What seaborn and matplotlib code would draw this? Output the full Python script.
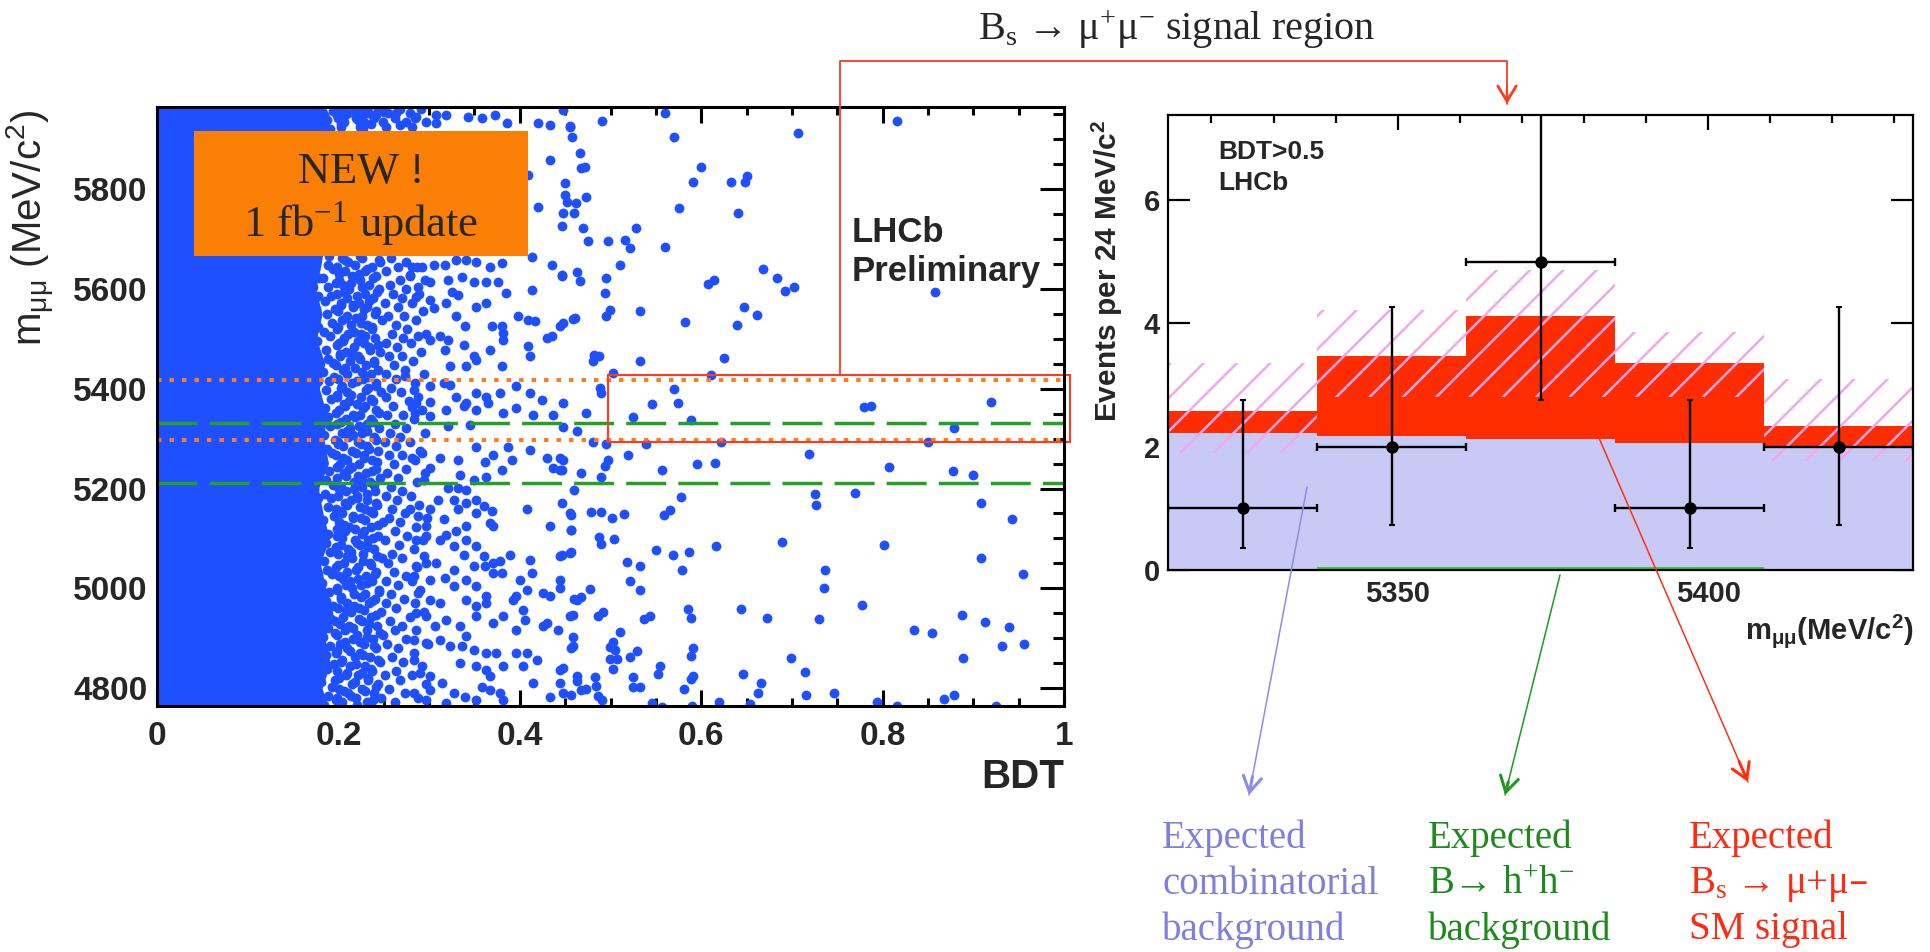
import matplotlib
matplotlib.use('Agg')
import matplotlib.pyplot as plt
import seaborn as sns
import numpy as np
import pandas as pd
from matplotlib.lines import Line2D
from matplotlib.patches import Rectangle, FancyArrowPatch, ArrowStyle
from matplotlib.ticker import MultipleLocator

# ======================= DATA =======================
# --- left panel: BDT vs dimuon mass ---
bdt_ticks = [0, 0.2, 0.4, 0.6, 0.8, 1.0]
bdt_tick_labels = ['0', '0.2', '0.4', '0.6', '0.8', '1']
mass_ticks = [4800, 5000, 5200, 5400, 5600, 5800]
mass_tick_labels = ['4800', '5000', '5200', '5400', '5600', '5800']

# right edge of the saturated (fully covered) low-BDT region
solid_edge_mass = [4764, 4800, 4850, 4900, 4950, 5000, 5050, 5100, 5150, 5200, 5250, 5300, 5350,
                   5400, 5450, 5500, 5550, 5600, 5650, 5700, 5750, 5800, 5850, 5900, 5950, 5966]
solid_edge_bdt = [0.188, 0.182, 0.191, 0.185, 0.194, 0.186, 0.180, 0.190, 0.183, 0.178, 0.189, 0.184, 0.187,
                  0.179, 0.185, 0.176, 0.182, 0.175, 0.181, 0.185, 0.185, 0.185, 0.185, 0.185, 0.190, 0.185]

# dense band just right of the saturated region: (mass, [bdt values])
dense_rows_a = [
    (4772, [0.204, 0.231, 0.262]), (4781, [0.198, 0.219, 0.247, 0.288]), (4790, [0.211, 0.239, 0.273]),
    (4799, [0.201, 0.226, 0.256]), (4808, [0.215, 0.244, 0.297]), (4817, [0.196, 0.233, 0.268]),
    (4826, [0.208, 0.222, 0.251, 0.281]), (4835, [0.199, 0.237, 0.263]), (4844, [0.213, 0.229, 0.292]),
    (4853, [0.203, 0.246, 0.271]), (4862, [0.218, 0.235, 0.259]), (4871, [0.197, 0.224, 0.283]),
    (4880, [0.209, 0.241, 0.266]), (4889, [0.202, 0.228, 0.254, 0.299]), (4898, [0.216, 0.238, 0.275]),
    (4907, [0.199, 0.221, 0.249]), (4916, [0.207, 0.232, 0.262, 0.286]), (4925, [0.212, 0.243, 0.270]),
    (4934, [0.196, 0.226, 0.257]), (4943, [0.205, 0.236, 0.279]), (4952, [0.214, 0.247, 0.294]),
    (4961, [0.200, 0.223, 0.263]), (4970, [0.209, 0.234, 0.252, 0.285]), (4979, [0.203, 0.240, 0.272]),
    (4988, [0.217, 0.229, 0.258]), (4997, [0.198, 0.245, 0.290]), (5006, [0.208, 0.225, 0.266]),
    (5015, [0.213, 0.237, 0.253, 0.281]), (5024, [0.201, 0.230, 0.274]), (5033, [0.210, 0.242, 0.261]),
    (5042, [0.197, 0.222, 0.287]), (5051, [0.206, 0.235, 0.255, 0.297]), (5060, [0.215, 0.248, 0.270]),
    (5069, [0.200, 0.227, 0.259]), (5078, [0.211, 0.239, 0.283]), (5087, [0.203, 0.224, 0.267]),
    (5096, [0.218, 0.233, 0.251, 0.293]), (5105, [0.198, 0.244, 0.276]), (5114, [0.207, 0.228, 0.262]),
    (5123, [0.212, 0.236, 0.286]), (5132, [0.201, 0.249, 0.268]), (5141, [0.216, 0.225, 0.256, 0.298]),
    (5150, [0.204, 0.238, 0.273]), (5159, [0.197, 0.229, 0.259]), (5168, [0.209, 0.243, 0.289]),
    (5177, [0.214, 0.232, 0.265]), (5186, [0.200, 0.221, 0.252, 0.280]), (5195, [0.208, 0.240, 0.270]),
    (5204, [0.203, 0.226, 0.258]), (5213, [0.217, 0.235, 0.287]), (5222, [0.199, 0.246, 0.266]),
    (5231, [0.206, 0.230, 0.254, 0.295]), (5240, [0.212, 0.241, 0.274]), (5249, [0.202, 0.223, 0.261]),
    (5258, [0.210, 0.237, 0.284]), (5267, [0.197, 0.228, 0.256, 0.270]), (5276, [0.215, 0.244, 0.290]),
    (5285, [0.205, 0.232, 0.263]), (5294, [0.200, 0.222, 0.251, 0.279]), (5303, [0.211, 0.239, 0.268]),
    (5312, [0.204, 0.226, 0.257, 0.296]), (5321, [0.213, 0.245, 0.275]), (5330, [0.198, 0.231, 0.262]),
    (5339, [0.208, 0.236, 0.283]), (5348, [0.216, 0.224, 0.254, 0.271]), (5357, [0.201, 0.242, 0.292]),
    (5366, [0.207, 0.229, 0.260]), (5375, [0.212, 0.238, 0.278]), (5384, [0.199, 0.225, 0.253, 0.288]),
    (5393, [0.209, 0.247, 0.269]), (5402, [0.203, 0.233, 0.258]), (5411, [0.215, 0.241, 0.285]),
    (5420, [0.200, 0.227, 0.264]), (5429, [0.210, 0.236, 0.252, 0.294]), (5438, [0.205, 0.244, 0.273]),
    (5447, [0.197, 0.230, 0.261]), (5456, [0.213, 0.239, 0.282]), (5465, [0.202, 0.222, 0.256, 0.270]),
    (5474, [0.208, 0.246, 0.291]), (5483, [0.217, 0.234, 0.265]), (5492, [0.201, 0.228, 0.253, 0.280]),
    (5501, [0.206, 0.240, 0.271]), (5510, [0.211, 0.225, 0.259, 0.297]), (5519, [0.199, 0.237, 0.276]),
    (5528, [0.214, 0.231, 0.263]), (5537, [0.204, 0.248, 0.286]), (5546, [0.209, 0.226, 0.255, 0.272]),
    (5555, [0.200, 0.242, 0.293]), (5564, [0.216, 0.232, 0.266]), (5573, [0.203, 0.223, 0.251, 0.281]),
    (5582, [0.210, 0.238, 0.270]), (5591, [0.198, 0.229, 0.260, 0.289]), (5600, [0.212, 0.245, 0.275]),
    (5609, [0.205, 0.234, 0.257]), (5618, [0.201, 0.224, 0.268, 0.295]), (5627, [0.215, 0.241, 0.279]),
    (5636, [0.207, 0.229, 0.253]), (5645, [0.199, 0.237, 0.266, 0.287]), (5654, [0.211, 0.246, 0.274]),
    (5663, [0.204, 0.226, 0.258]),
    (5925, [0.203, 0.224, 0.252, 0.281]), (5934, [0.206, 0.228, 0.249, 0.274, 0.297]),
    (5943, [0.200, 0.219, 0.239, 0.262, 0.285]), (5952, [0.211, 0.233, 0.255, 0.279]),
    (5961, [0.204, 0.225, 0.244, 0.268, 0.291]),
]

dense_rows_b = [
    (4767, [0.163, 0.184, 0.221]), (4776, [0.171, 0.197, 0.238]), (4785, [0.166, 0.189, 0.214]),
    (4794, [0.175, 0.206, 0.229]), (4803, [0.161, 0.193, 0.242]), (4812, [0.169, 0.181, 0.218]),
    (4821, [0.178, 0.201, 0.233]), (4830, [0.164, 0.209, 0.226]), (4839, [0.173, 0.187, 0.236]),
    (4848, [0.167, 0.195, 0.219]), (4857, [0.176, 0.204, 0.244]), (4866, [0.162, 0.186, 0.227]),
    (4875, [0.170, 0.199, 0.213]), (4884, [0.179, 0.191, 0.239]), (4893, [0.165, 0.207, 0.224]),
    (4902, [0.172, 0.183, 0.231]), (4911, [0.168, 0.196, 0.246]), (4920, [0.177, 0.188, 0.216]),
    (4929, [0.163, 0.202, 0.234]), (4938, [0.174, 0.192, 0.223]), (4947, [0.166, 0.185, 0.241]),
    (4956, [0.171, 0.208, 0.228]), (4965, [0.179, 0.194, 0.217]), (4974, [0.164, 0.186, 0.237]),
    (4983, [0.169, 0.203, 0.225]), (4992, [0.176, 0.190, 0.245]), (5001, [0.162, 0.198, 0.215]),
    (5010, [0.173, 0.182, 0.232]), (5019, [0.167, 0.205, 0.222]), (5028, [0.178, 0.193, 0.240]),
    (5037, [0.165, 0.187, 0.219]), (5046, [0.172, 0.200, 0.236]), (5055, [0.168, 0.184, 0.227]),
    (5064, [0.175, 0.209, 0.243]), (5073, [0.161, 0.191, 0.214]), (5082, [0.170, 0.197, 0.233]),
    (5091, [0.177, 0.186, 0.221]), (5100, [0.163, 0.204, 0.238]), (5109, [0.174, 0.189, 0.226]),
    (5118, [0.166, 0.199, 0.218]), (5127, [0.179, 0.206, 0.244]), (5136, [0.164, 0.183, 0.229]),
    (5145, [0.171, 0.195, 0.216]), (5154, [0.176, 0.202, 0.235]), (5163, [0.162, 0.188, 0.224]),
    (5172, [0.169, 0.207, 0.241]), (5181, [0.178, 0.192, 0.220]), (5190, [0.165, 0.185, 0.231]),
    (5199, [0.173, 0.201, 0.217]), (5208, [0.167, 0.194, 0.239]), (5217, [0.175, 0.186, 0.226]),
    (5226, [0.161, 0.208, 0.222]), (5235, [0.170, 0.190, 0.237]), (5244, [0.177, 0.198, 0.215]),
    (5253, [0.164, 0.183, 0.243]), (5262, [0.172, 0.205, 0.228]), (5271, [0.168, 0.193, 0.219]),
    (5280, [0.179, 0.187, 0.234]), (5289, [0.163, 0.200, 0.225]), (5298, [0.174, 0.196, 0.241]),
    (5307, [0.166, 0.184, 0.216]), (5316, [0.171, 0.209, 0.232]), (5325, [0.176, 0.191, 0.223]),
    (5334, [0.162, 0.203, 0.238]), (5343, [0.169, 0.188, 0.218]), (5352, [0.178, 0.197, 0.245]),
    (5361, [0.165, 0.185, 0.227]), (5370, [0.173, 0.206, 0.221]), (5379, [0.167, 0.192, 0.236]),
    (5388, [0.175, 0.199, 0.214]), (5397, [0.161, 0.186, 0.230]), (5406, [0.170, 0.204, 0.242]),
    (5415, [0.177, 0.190, 0.220]), (5424, [0.164, 0.195, 0.233]), (5433, [0.172, 0.183, 0.226]),
    (5442, [0.168, 0.207, 0.218]), (5451, [0.179, 0.194, 0.239]), (5460, [0.163, 0.189, 0.224]),
    (5469, [0.174, 0.202, 0.215]), (5478, [0.166, 0.186, 0.235]), (5487, [0.171, 0.198, 0.244]),
    (5496, [0.176, 0.205, 0.222]), (5505, [0.162, 0.191, 0.229]), (5514, [0.169, 0.184, 0.217]),
    (5523, [0.178, 0.200, 0.237]), (5532, [0.165, 0.193, 0.225]), (5541, [0.173, 0.208, 0.219]),
    (5550, [0.167, 0.187, 0.240]), (5559, [0.175, 0.196, 0.228]), (5568, [0.161, 0.203, 0.216]),
    (5577, [0.170, 0.185, 0.234]), (5586, [0.177, 0.192, 0.221]), (5595, [0.164, 0.206, 0.243]),
    (5604, [0.172, 0.189, 0.226]), (5613, [0.168, 0.197, 0.214]), (5622, [0.179, 0.183, 0.238]),
    (5631, [0.163, 0.201, 0.223]), (5640, [0.174, 0.194, 0.231]), (5649, [0.166, 0.188, 0.218]),
    (5658, [0.171, 0.207, 0.245]), (5666, [0.176, 0.190, 0.224]),
    (5921, [0.168, 0.191, 0.227]), (5930, [0.174, 0.203, 0.236]), (5939, [0.165, 0.187, 0.222]),
    (5948, [0.172, 0.199, 0.241]), (5957, [0.178, 0.194, 0.218]), (5965, [0.167, 0.205, 0.233]),
]

# medium-density region (bdt, mass)
mid_points = [
    (0.207, 5949), (0.226, 5949), (0.238, 5949), (0.250, 5955), (0.264, 5952), (0.286, 5945), (0.308, 5949),
    (0.319, 5949), (0.343, 5945), (0.358, 5942), (0.373, 5949), (0.386, 5932), (0.420, 5932), (0.433, 5929),
    (0.455, 5925), (0.448, 5959), (0.226, 5925), (0.308, 5932), (0.268, 5929),
    (0.433, 5859), (0.420, 5765), (0.413, 5665), (0.409, 5829),
    (0.281, 5645), (0.292, 5645), (0.305, 5648), (0.317, 5648), (0.330, 5658), (0.341, 5658), (0.352, 5655),
    (0.367, 5645), (0.380, 5652), (0.435, 5648), (0.446, 5628),
    (0.279, 5628), (0.288, 5605), (0.301, 5615), (0.321, 5618), (0.336, 5625), (0.349, 5615), (0.363, 5615),
    (0.376, 5615), (0.385, 5592), (0.325, 5595), (0.332, 5588), (0.413, 5598), (0.352, 5565),
    (0.286, 5585), (0.301, 5578), (0.305, 5562), (0.319, 5572), (0.330, 5545), (0.340, 5525), (0.363, 5572),
    (0.369, 5525), (0.380, 5525), (0.382, 5511), (0.398, 5545), (0.409, 5538), (0.417, 5535), (0.444, 5525),
    (0.435, 5505), (0.461, 5541),
    (0.288, 5505), (0.301, 5498), (0.312, 5505), (0.321, 5498), (0.317, 5478), (0.338, 5488), (0.349, 5465),
    (0.367, 5478), (0.382, 5498), (0.409, 5485), (0.411, 5465), (0.430, 5501), (0.323, 5445), (0.341, 5445),
    (0.352, 5458), (0.380, 5445),
    (0.273, 5425), (0.283, 5398), (0.301, 5405), (0.316, 5411), (0.323, 5408), (0.330, 5384), (0.341, 5371),
    (0.352, 5391), (0.363, 5384), (0.378, 5391), (0.396, 5405), (0.411, 5391), (0.424, 5378), (0.448, 5371),
    (0.281, 5364), (0.301, 5374),
    (0.319, 5358), (0.338, 5365), (0.352, 5358), (0.365, 5371), (0.382, 5351), (0.396, 5361), (0.415, 5348),
    (0.437, 5348), (0.345, 5328), (0.321, 5325), (0.301, 5345), (0.284, 5351), (0.286, 5371),
    (0.332, 5258), (0.352, 5284), (0.362, 5254), (0.371, 5268), (0.387, 5284), (0.391, 5258), (0.411, 5278),
    (0.430, 5261), (0.444, 5261), (0.437, 5241), (0.444, 5238), (0.380, 5238), (0.363, 5224), (0.349, 5218),
    (0.334, 5228), (0.312, 5261), (0.301, 5241), (0.292, 5271), (0.281, 5261), (0.294, 5218), (0.321, 5201),
    (0.332, 5201), (0.341, 5198),
    (0.310, 5178), (0.301, 5158), (0.288, 5144), (0.297, 5124), (0.279, 5158), (0.316, 5138), (0.328, 5178),
    (0.332, 5158), (0.341, 5171), (0.352, 5178), (0.352, 5151), (0.360, 5164), (0.369, 5154), (0.367, 5131),
    (0.371, 5124), (0.341, 5124), (0.330, 5114), (0.319, 5107), (0.408, 5158), (0.433, 5124), (0.455, 5151),
    (0.457, 5117),
    (0.286, 5097), (0.297, 5104), (0.312, 5097), (0.327, 5084), (0.341, 5097), (0.352, 5084), (0.338, 5067),
    (0.360, 5064), (0.371, 5051), (0.378, 5054), (0.389, 5067), (0.380, 5031), (0.362, 5044), (0.349, 5044),
    (0.327, 5037), (0.308, 5051), (0.294, 5064), (0.286, 5044), (0.283, 5024), (0.301, 5017), (0.317, 5021),
    (0.328, 5004), (0.341, 5017), (0.352, 5004), (0.363, 4984), (0.371, 5031), (0.400, 5017), (0.411, 5057),
    (0.413, 5031), (0.444, 5064), (0.455, 5071), (0.444, 5017), (0.433, 4984), (0.426, 4991), (0.396, 4984),
    (0.408, 4997), (0.393, 4977),
    (0.288, 4991), (0.301, 4977), (0.312, 4971), (0.286, 4950), (0.297, 4944), (0.306, 4924), (0.319, 4937),
    (0.334, 4924), (0.341, 4977), (0.352, 4964), (0.352, 4944), (0.363, 4971), (0.371, 4930), (0.382, 4944),
    (0.404, 4957), (0.406, 4937), (0.396, 4917), (0.426, 4924), (0.430, 4930), (0.442, 4917), (0.455, 4944),
    (0.463, 4977),
    (0.283, 4897), (0.297, 4890), (0.312, 4897), (0.323, 4884), (0.336, 4884), (0.341, 4904), (0.349, 4877),
    (0.363, 4870), (0.374, 4870), (0.334, 4850), (0.352, 4844), (0.363, 4837), (0.367, 4824), (0.382, 4844),
    (0.396, 4870), (0.408, 4870), (0.419, 4857), (0.404, 4844), (0.415, 4810), (0.433, 4783), (0.448, 4790),
    (0.459, 4884), (0.463, 4824), (0.444, 4837), (0.358, 4803), (0.367, 4797), (0.378, 4790), (0.382, 4777),
    (0.352, 4777), (0.340, 4783), (0.327, 4790), (0.314, 4810), (0.301, 4824), (0.290, 4830), (0.283, 4857),
    (0.301, 4797), (0.319, 4770), (0.297, 4777), (0.283, 4790),
]

# sparse high-BDT candidates (bdt, mass)
sparse_points = [
    (0.560, 5953), (0.491, 5937), (0.455, 5927), (0.458, 5905), (0.570, 5904), (0.707, 5913), (0.816, 5937),
    (0.466, 5873), (0.468, 5842), (0.472, 5845), (0.600, 5845), (0.450, 5812), (0.591, 5814), (0.633, 5815),
    (0.648, 5815), (0.651, 5827), (0.450, 5789), (0.452, 5775), (0.462, 5772), (0.473, 5784), (0.575, 5763),
    (0.641, 5753), (0.448, 5753), (0.460, 5753), (0.447, 5726), (0.470, 5722), (0.528, 5722), (0.475, 5696),
    (0.497, 5696), (0.516, 5698), (0.521, 5682), (0.560, 5685), (0.510, 5648), (0.668, 5640), (0.684, 5622),
    (0.692, 5597), (0.702, 5605), (0.608, 5610), (0.614, 5618), (0.858, 5595), (0.447, 5626), (0.463, 5635),
    (0.466, 5617), (0.495, 5622), (0.494, 5592), (0.448, 5531), (0.459, 5539), (0.495, 5545), (0.499, 5558),
    (0.533, 5556), (0.582, 5533), (0.647, 5564), (0.661, 5548), (0.639, 5528), (0.482, 5468), (0.487, 5466),
    (0.481, 5455), (0.533, 5455), (0.625, 5461), (0.503, 5432), (0.611, 5428), (0.488, 5402), (0.489, 5392),
    (0.570, 5400), (0.546, 5369), (0.574, 5371), (0.473, 5352), (0.525, 5344), (0.589, 5338), (0.780, 5363),
    (0.787, 5366), (0.920, 5374), (0.879, 5321), (0.448, 5324), (0.463, 5316), (0.481, 5294), (0.495, 5290),
    (0.539, 5290), (0.622, 5294), (0.850, 5294), (0.719, 5270), (0.519, 5268), (0.448, 5257), (0.446, 5237),
    (0.497, 5257), (0.494, 5245), (0.595, 5249), (0.615, 5251), (0.557, 5237), (0.807, 5244), (0.878, 5236),
    (0.900, 5227), (0.468, 5231), (0.489, 5224),
    (0.460, 5197), (0.447, 5172), (0.456, 5147), (0.479, 5153), (0.490, 5153), (0.502, 5141), (0.515, 5149),
    (0.578, 5184), (0.559, 5146), (0.566, 5156), (0.725, 5189), (0.727, 5167), (0.770, 5191), (0.908, 5171),
    (0.943, 5139), (0.457, 5117), (0.487, 5102), (0.489, 5089), (0.504, 5099), (0.689, 5092), (0.802, 5086),
    (0.616, 5085), (0.446, 5067), (0.456, 5072), (0.550, 5077), (0.569, 5067), (0.587, 5072), (0.579, 5037),
    (0.518, 5052), (0.532, 5044), (0.522, 5015), (0.532, 4997), (0.736, 5036), (0.735, 5000), (0.908, 5060),
    (0.955, 5029), (0.477, 4998), (0.460, 4978), (0.468, 4982), (0.777, 4967), (0.644, 4958), (0.673, 4941),
    (0.730, 4938), (0.459, 4947), (0.486, 4944), (0.492, 4953), (0.537, 4939), (0.544, 4944), (0.585, 4959),
    (0.589, 4941), (0.887, 4947), (0.913, 4932), (0.939, 4923), (0.835, 4917), (0.855, 4910), (0.932, 4885),
    (0.956, 4888), (0.510, 4912), (0.459, 4903), (0.457, 4880), (0.503, 4893), (0.505, 4877), (0.499, 4883),
    (0.499, 4858), (0.507, 4858), (0.529, 4875), (0.522, 4862), (0.591, 4881), (0.589, 4865), (0.699, 4860),
    (0.889, 4860), (0.503, 4838), (0.714, 4833), (0.552, 4829), (0.555, 4845), (0.589, 4818), (0.591, 4825),
    (0.646, 4828), (0.525, 4822), (0.525, 4803), (0.532, 4803), (0.483, 4822), (0.484, 4805), (0.463, 4815),
    (0.468, 4797), (0.473, 4798), (0.456, 4787), (0.486, 4785), (0.491, 4777), (0.581, 4799), (0.663, 4791),
    (0.666, 4811), (0.716, 4787), (0.746, 4791), (0.868, 4778), (0.879, 4787), (0.794, 4773), (0.816, 4764),
    (0.925, 4764), (0.620, 4773), (0.654, 4769), (0.590, 4764), (0.557, 4762), (0.546, 4770), (0.448, 4841),
    (0.444, 4811), (0.444, 5000),
]

# mass windows
bd_window = [5212, 5332]       # green dashed
bs_window = [5298, 5418]       # orange dotted
signal_box_bdt = [0.497, 1.007]
signal_box_mass = [5294, 5428]

# --- right panel: mass spectrum for BDT>0.5 ---
bin_edges = [5313, 5337, 5361, 5385, 5409, 5433]
bhh_bkg = [0.012, 0.05, 0.05, 0.05, 0.012]
comb_bkg = [2.21, 2.13, 2.07, 2.01, 1.96]
sm_signal = [0.35, 1.29, 2.00, 1.29, 0.37]
band_lo = [1.89, 2.81, 2.81, 2.81, 1.76]
band_hi = [3.35, 4.22, 4.86, 3.86, 3.09]
obs_counts = [1, 2, 5, 1, 2]
obs_err_lo = [0.65, 1.27, 2.25, 0.65, 1.27]
obs_err_hi = [1.76, 2.26, 3.00, 1.76, 2.26]
hist_xticks = [5350, 5400]
hist_yticks = [0, 2, 4, 6]

# ======================= STYLE =======================
sns.set_theme(style='ticks')
SANS = ['Liberation Sans', 'DejaVu Sans']
SERIF = ['Liberation Serif', 'DejaVu Serif']
plt.rcParams['font.family'] = SANS
plt.rcParams['mathtext.default'] = 'regular'
plt.rcParams['hatch.linewidth'] = 1.8
plt.rcParams['axes.facecolor'] = 'white'

BLUE = '#1F50FF'
LAV = '#C9C9F5'
RED = '#FF2C00'
GREENF = '#33CC33'
HATCH = '#F2A6EE'
ORANGE_BOX = '#F97F05'
ORANGE_DOT = '#FF7A22'
GREEN_DASH = '#259F25'
RED_LINE = '#FF3A1E'
LAV_TXT = '#7F7FDD'
GREEN_TXT = '#1E8A1E'
RED_TXT = '#FF2A12'

W, H = 1930, 952
fig = plt.figure(figsize=(W / 100, H / 100), dpi=100, facecolor='white')

def fx(x):
    return x / W

def fy(y):
    return 1 - y / H

# ======================= LEFT PANEL =======================
ax = fig.add_axes([157 / W, 1 - 706 / H, (1064 - 157) / W, (706 - 107) / H])
ax.set_xlim(0, 1)
ax.set_ylim(4764, 5965)

ax.fill_betweenx(solid_edge_mass, 0, solid_edge_bdt, color=BLUE, lw=0, zorder=1)

pts = ([(b, m) for m, bl in dense_rows_b for b in bl] + [(b, m) for m, bl in dense_rows_a for b in bl]
       + mid_points + sparse_points)
pts_df = pd.DataFrame(pts, columns=['bdt', 'mass'])
sns.scatterplot(data=pts_df, x='bdt', y='mass', ax=ax, color=BLUE, s=50, linewidth=0, legend=False, zorder=2)

for m in bd_window:
    ax.axhline(m, color=GREEN_DASH, lw=2.5, dashes=(11.5, 3.5), zorder=3)
for m in bs_window:
    ax.axhline(m, color=ORANGE_DOT, lw=2.9, dashes=(1.1, 2.0), zorder=3.1)

ax.add_patch(Rectangle((signal_box_bdt[0], signal_box_mass[0]), signal_box_bdt[1] - signal_box_bdt[0],
                       signal_box_mass[1] - signal_box_mass[0], fill=False, edgecolor=RED_LINE, lw=1.5,
                       clip_on=False, zorder=4))

ax.add_patch(Rectangle((0.041, 5667), 0.368, 250, facecolor=ORANGE_BOX, lw=0, zorder=5))
ax.text(0.225, 5835, 'NEW !', ha='center', va='center', fontsize=32, family=SERIF, zorder=6)
ax.text(0.225, 5732, '1 fb$^{-1}$ update', ha='center', va='center', fontsize=32, family=SERIF, zorder=6)

ax.text(0.766, 0.790, 'LHCb', transform=ax.transAxes, fontsize=25, fontweight='bold', va='center', ha='left', zorder=6)
ax.text(0.766, 0.726, 'Preliminary', transform=ax.transAxes, fontsize=25, fontweight='bold', va='center', ha='left', zorder=6)

ax.set_xticks(bdt_ticks)
ax.set_xticklabels(bdt_tick_labels, fontweight='bold')
ax.set_yticks(mass_ticks)
ax.set_yticklabels(mass_tick_labels, fontweight='bold')
ax.xaxis.set_minor_locator(MultipleLocator(0.05))
ax.yaxis.set_minor_locator(MultipleLocator(50))
ax.tick_params(which='both', direction='in', top=True, right=True, width=2.2, color='black')
ax.tick_params(axis='x', which='major', length=11.5, labelsize=24, pad=11)
ax.tick_params(axis='x', which='minor', length=5.8)
ax.tick_params(axis='y', which='major', length=17, labelsize=24, pad=7)
ax.tick_params(axis='y', which='minor', length=8)
for s in ax.spines.values():
    s.set_linewidth(2.2)
    s.set_color('black')
    s.set_zorder(7)

ax.set_xlabel('BDT', fontsize=29, fontweight='bold', loc='right')
ax.xaxis.set_label_coords(1.0, -0.087)
ax.set_ylabel('m$_{μμ}$ (MeV/c$^{2}$)', fontsize=29, loc='top')
ax.yaxis.set_label_coords(-0.11, 0.995)

# ======================= RIGHT PANEL =======================
ax2 = fig.add_axes([1168 / W, 1 - 570 / H, (1913 - 1168) / W, (570 - 115) / H])
edges = np.array(bin_edges, dtype=float)
centers = 0.5 * (edges[:-1] + edges[1:])
widths = np.diff(edges)
lvl_green = np.array(bhh_bkg)
lvl_lav = lvl_green + np.array(comb_bkg)
lvl_red = lvl_lav + np.array(sm_signal)
hist_df = pd.DataFrame({'mass': centers, 'red': lvl_red, 'lav': lvl_lav, 'green': lvl_green})

for col, colr, z in [('red', RED, 1), ('lav', LAV, 1.1), ('green', GREENF, 1.2)]:
    sns.histplot(data=hist_df, x='mass', weights=col, bins=list(bin_edges), ax=ax2, color=colr,
                 alpha=1, linewidth=0, zorder=z)

ax2.bar(centers, np.array(band_hi) - np.array(band_lo), width=widths, bottom=band_lo, fill=False,
        hatch='/', edgecolor=HATCH, linewidth=0, zorder=2)

ax2.errorbar(centers, obs_counts, xerr=widths / 2, fmt='none', ecolor='black', elinewidth=1.7,
             capsize=3.0, capthick=1.7, zorder=3)
ax2.errorbar(centers, obs_counts, yerr=[obs_err_lo, obs_err_hi], fmt='none', ecolor='black',
             elinewidth=1.7, capsize=2.0, capthick=1.5, zorder=3)
obs_df = pd.DataFrame({'mass': centers, 'n': obs_counts})
sns.scatterplot(data=obs_df, x='mass', y='n', ax=ax2, color='black', s=80, linewidth=0, legend=False, zorder=4)

ax2.set_xlim(bin_edges[0], bin_edges[-1])
ax2.set_ylim(0, 7.38)
ax2.set_xticks(hist_xticks)
ax2.set_xticklabels([str(t) for t in hist_xticks], fontweight='bold')
ax2.set_yticks(hist_yticks)
ax2.set_yticklabels([str(t) for t in hist_yticks], fontweight='bold')
ax2.xaxis.set_minor_locator(MultipleLocator(10))
ax2.tick_params(which='both', direction='in', top=True, right=True, width=1.6, color='black')
ax2.tick_params(axis='x', which='major', length=11, labelsize=21, pad=7)
ax2.tick_params(axis='x', which='minor', length=5.5)
ax2.tick_params(axis='y', which='major', length=16, labelsize=21, pad=6)
for s in ax2.spines.values():
    s.set_linewidth(1.6)
    s.set_color('black')
    s.set_zorder(7)

ax2.set_xlabel('m$_{μμ}$(MeV/c$^{2}$)', fontsize=21, fontweight='bold', loc='right')
ax2.xaxis.set_label_coords(1.0, -0.092)
ax2.set_ylabel('Events per 24 MeV/c$^{2}$', fontsize=21.5, fontweight='bold', loc='top')
ax2.yaxis.set_label_coords(-0.058, 0.99)

ax2.text(0.067, 0.919, 'BDT>0.5', transform=ax2.transAxes, fontsize=19, fontweight='bold', va='center')
ax2.text(0.067, 0.851, 'LHCb', transform=ax2.transAxes, fontsize=19, fontweight='bold', va='center')

# ======================= ANNOTATIONS =======================
fig.text(fx(1177), fy(30), 'B$_{s}$ → μ$^{+}$μ$^{-}$ signal region', ha='center', va='center',
         fontsize=29, family=SERIF)

fig.add_artist(Line2D([fx(840), fx(840), fx(1507), fx(1507)], [fy(375), fy(61), fy(61), fy(95)],
                      transform=fig.transFigure, color=RED_LINE, lw=1.3))

def arrow(x0, y0, x1, y1, color, lw_line, lw_head):
    fig.add_artist(Line2D([fx(x0), fx(x1)], [fy(y0), fy(y1)], transform=fig.transFigure,
                          color=color, lw=lw_line))
    t = 0.94 if abs(y1 - y0) > 100 else 0.5
    xs, ys = x0 + (x1 - x0) * t, y0 + (y1 - y0) * t
    fig.add_artist(FancyArrowPatch((fx(xs), fy(ys)), (fx(x1), fy(y1)), transform=fig.transFigure,
                                   arrowstyle=ArrowStyle('->', head_length=0.5, head_width=0.3),
                                   mutation_scale=22, color=color, lw=lw_head, shrinkA=0, shrinkB=0))

arrow(1507, 85, 1507, 104, RED_LINE, 1.3, 2.0)
arrow(1307, 487, 1249, 795, '#8C8CE6', 1.1, 2.2)
arrow(1560, 575, 1505, 795, '#1E9A1E', 1.1, 2.2)
arrow(1599, 438, 1748, 782, '#FF3010', 1.1, 2.2)

cols = [
    (1162, LAV_TXT, ['Expected', 'combinatorial', 'background']),
    (1428, GREEN_TXT, ['Expected', 'B→ h$^{+}$h$^{-}$', 'background']),
    (1689, RED_TXT, ['Expected', 'B$_{s}$ → μ+μ–', 'SM signal']),
]
rows_y = [838, 885, 930]
for x, c, lines in cols:
    for yy, s in zip(rows_y, lines):
        fig.text(fx(x), fy(yy), s, ha='left', va='center', fontsize=28, family=SERIF, color=c)

fig.savefig('out.png', dpi=100, facecolor='white')
